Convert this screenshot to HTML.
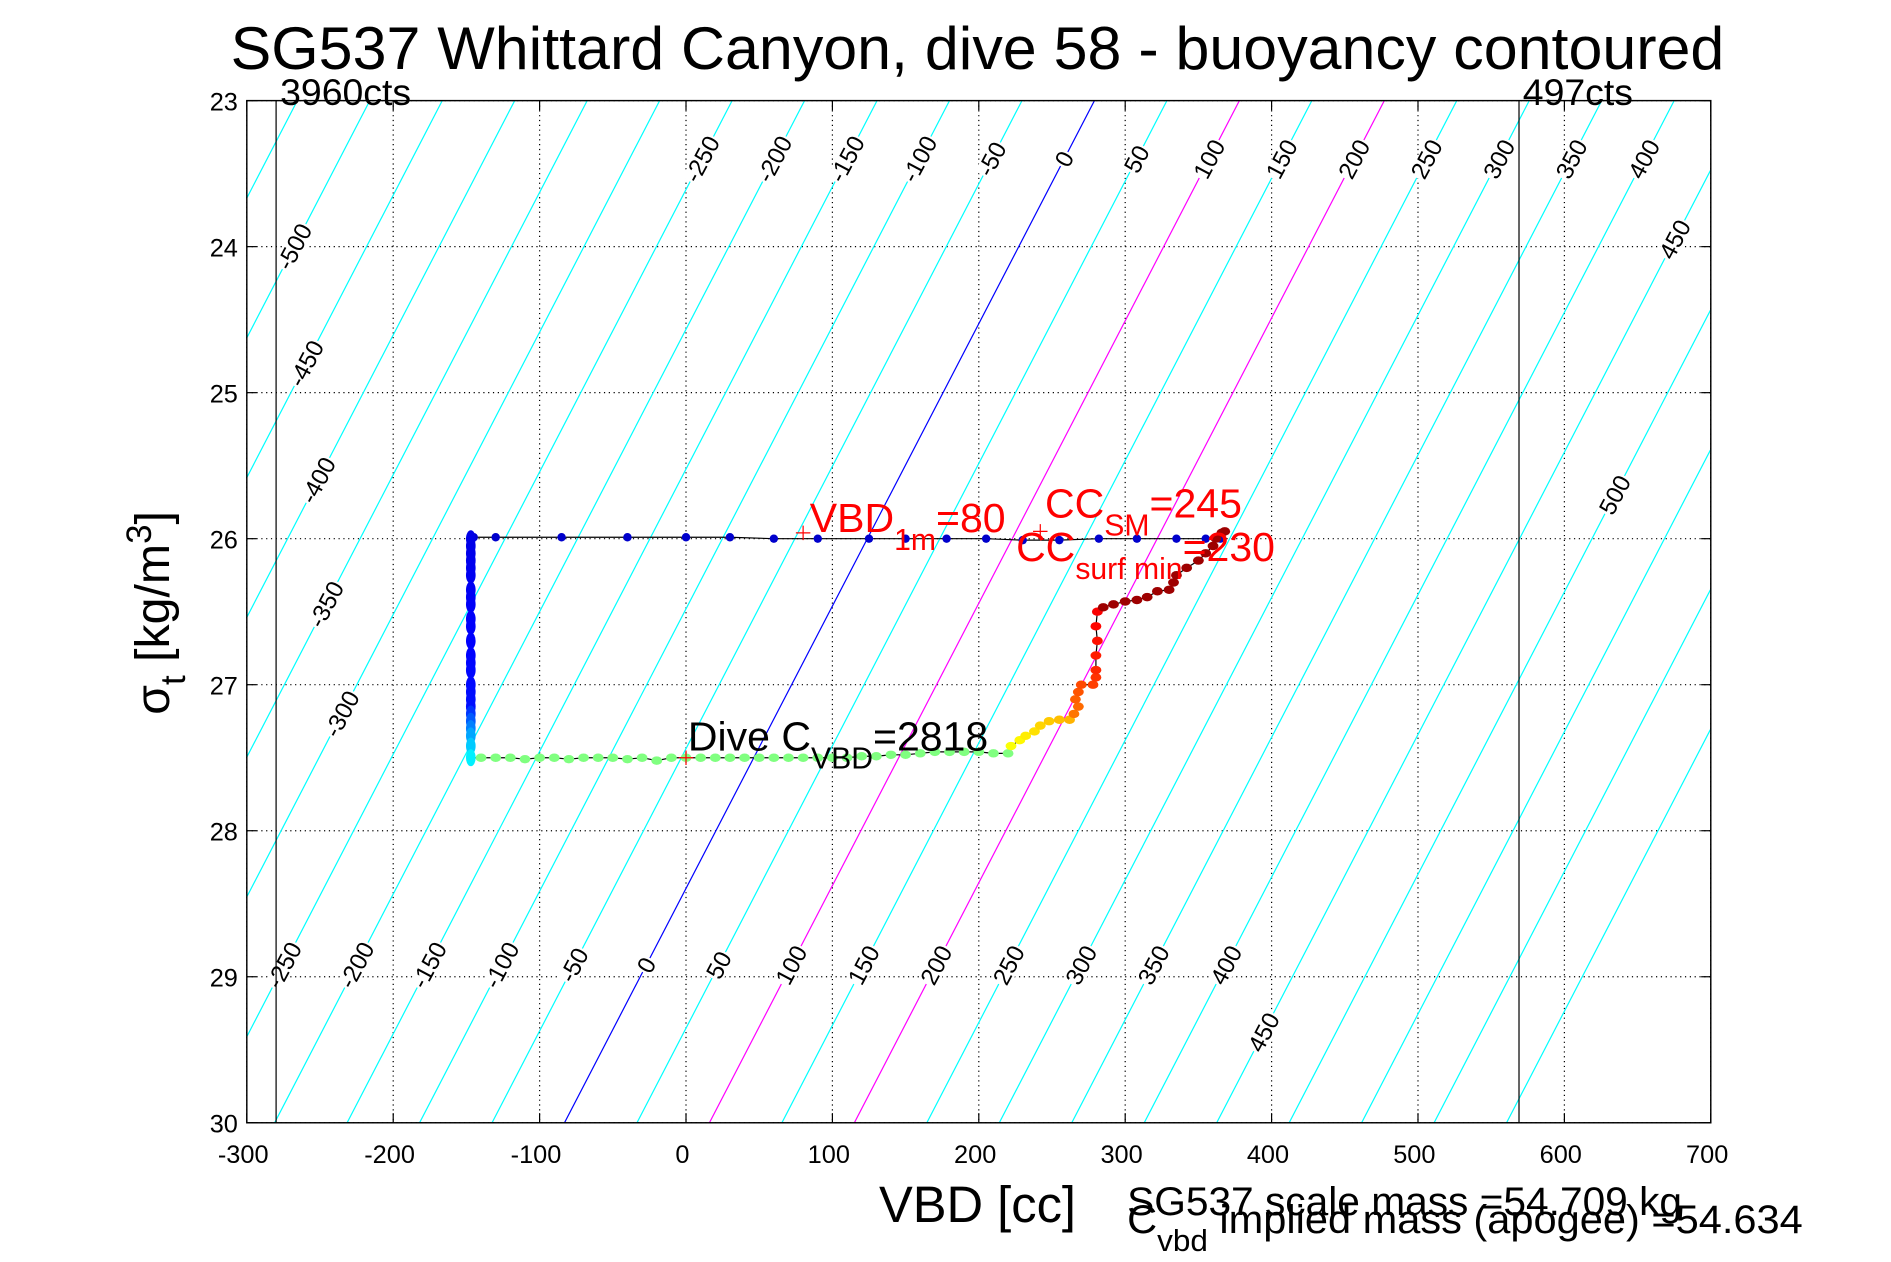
<!DOCTYPE html>
<html><head><meta charset="utf-8"><style>
html,body{margin:0;padding:0;background:#fff;}
svg{display:block;font-family:"Liberation Sans",sans-serif;}
</style></head><body>
<svg id="chart" width="1891" height="1262" viewBox="0 0 1567 1046" xmlns="http://www.w3.org/2000/svg">
<rect x="0" y="0" width="1567" height="1046" fill="#fff"/>
<g id="grid"></g>
<g id="contours"></g>
<g id="clabels"></g>
<g id="vlines"></g>
<g id="trace"></g>
<g id="axes"></g>
<g id="annot"></g>
<text x="810" y="57" font-size="50" text-anchor="middle" textLength="1238" lengthAdjust="spacingAndGlyphs">SG537 Whittard Canyon, dive 58 - buoyancy contoured</text>
<text x="810" y="1013" font-size="42" text-anchor="middle">VBD [cc]</text>
<text transform="translate(140,508) rotate(-90)" font-size="40" text-anchor="middle">σ<tspan font-size="29" dy="13">t</tspan><tspan dy="-13"> [kg/m</tspan><tspan font-size="29" dy="-15">3</tspan><tspan dy="15">]</tspan></text>
<text x="934" y="1007" font-size="33" textLength="460" lengthAdjust="spacingAndGlyphs">SG537 scale mass =54.709 kg</text>
<text x="934" y="1022" font-size="33" textLength="560" lengthAdjust="spacingAndGlyphs">C<tspan font-size="25" dy="15">vbd</tspan><tspan dy="-15"> implied mass (apogee) =54.634</tspan></text>
</svg>
<script>
const xTicks=[-300,-200,-100,0,100,200,300,400,500,600,700];
const yTicks=[23,24,25,26,27,28,29,30];
const contourLevels=[-550,-500,-450,-400,-350,-300,-250,-200,-150,-100,-50,0,50,100,150,200,250,300,350,400,450,500,550,600,650];
const zeroTop=279, zeroBottom=-83;
const topLabels=[-250,-200,-150,-100,-50,0,50,100,150,200,250,300,350,400];
const bottomLabels=[-250,-200,-150,-100,-50,0,50,100,150,200,250,300,350,400];
const sideLabels=[-500,-450,-400,-350,-300];
const sideLabelSigma=[24.0,24.8,25.6,26.45,27.2];
const extraLabels=[450,500,450];
const extraLabelSigma=[23.95,25.7,29.38];
const descentVbd=[-145,-130,-85,-40,0,30,60,90,125,150,178,205,230,255,282,308,335,355,365];
const descentSigma=[25.99,25.99,25.99,25.99,25.99,25.99,26.0,26.0,26.0,26.0,26.0,26.0,26.01,26.01,26.0,26.0,26.0,26.0,26.0];
const diveVbd=[-147,-147,-147,-147,-147,-147,-147,-147,-147,-147,-147,-147,-147,-147,-147,-147,-147,-147,-147,-147,-147,-147,-147,-147,-147,
-140,-130,-120,-110,-100,-90,-80,-70,-60,-50,-40,-30,-20,-10,0,10,20,30,40,50,60,70,80,90,100,110,120,130,140,150,160,170,180,190,200,210,220,
222,228,232,238,242,248,255,262,
265,268,266,268,270,278,280,280,280,281,280,281,
285,292,300,308,315,322,330,333,335,342,350,355,360,362,366,368];
const diveSigma=[26.0,26.05,26.1,26.15,26.2,26.25,26.35,26.4,26.45,26.55,26.6,26.7,26.8,26.85,26.9,27.0,27.05,27.1,27.15,27.2,27.25,27.3,27.35,27.42,27.5,
27.5,27.5,27.5,27.51,27.5,27.5,27.51,27.5,27.5,27.5,27.51,27.5,27.52,27.5,27.5,27.5,27.5,27.5,27.5,27.5,27.5,27.5,27.5,27.5,27.5,27.5,27.49,27.49,27.48,27.48,27.47,27.46,27.46,27.46,27.46,27.47,27.47,
27.42,27.38,27.35,27.32,27.28,27.25,27.24,27.24,
27.2,27.15,27.1,27.05,27.0,27.0,26.95,26.9,26.8,26.7,26.6,26.5,
26.47,26.45,26.43,26.42,26.4,26.36,26.35,26.3,26.25,26.2,26.15,26.1,26.05,26.0,25.96,25.95];
const NS="http://www.w3.org/2000/svg";
const L=204.4,R=1417.8,T=83.4,B=930.6;
const X=v=>L+(v+300)/1000*(R-L);
const Y=s=>T+(s-23)/7*(B-T);
const zeroAt=s=>zeroTop+(zeroBottom-zeroTop)*(s-23)/7;
const cVbd=(b,s)=>zeroAt(s)+b*0.99;
function mk(tag,attrs,parent){const e=document.createElementNS(NS,tag);for(const k in attrs)e.setAttribute(k,attrs[k]);parent.appendChild(e);return e;}
const g=id=>document.getElementById(id);
xTicks.forEach(v=>{const l=mk('line',{x1:X(v),x2:X(v),y1:T,y2:B,stroke:'#000','stroke-width':1,'stroke-dasharray':'1,3'},g('grid'));

});
yTicks.forEach(s=>{const l=mk('line',{x1:L,x2:R,y1:Y(s),y2:Y(s),stroke:'#000','stroke-width':1,'stroke-dasharray':'1,3'},g('grid'));

});
const clip=mk('clipPath',{id:'pc'},document.getElementById('chart'));mk('rect',{x:L,y:T,width:R-L,height:B-T},clip);
g('contours').setAttribute('clip-path','url(#pc)');
contourLevels.forEach(b=>{const col=b===0?'#0000ff':(b===100||b===200)?'#ff00ff':'#00ffff';
const l=mk('line',{x1:X(cVbd(b,30)),y1:Y(30),x2:X(cVbd(b,23)),y2:Y(23),stroke:col,'stroke-width':1},g('contours'));

});
function lab(b,s){const x=X(cVbd(b,s)),y=Y(s);
const t=mk('text',{x:0,y:7,'font-size':20,'text-anchor':'middle',transform:`translate(${x},${y}) rotate(-62)`},g('clabels'));
t.textContent=b;


const bb=t.getBBox();const r=mk('rect',{x:bb.x-1,y:bb.y+3,width:bb.width+2,height:bb.height-6,fill:'#fff',transform:t.getAttribute('transform')},g('clabels'));
g('clabels').insertBefore(r,t);}
topLabels.forEach(b=>lab(b,23.4));
bottomLabels.forEach(b=>lab(b,28.92));
sideLabels.forEach((b,i)=>lab(b,sideLabelSigma[i]));
extraLabels.forEach((b,i)=>lab(b,extraLabelSigma[i]));
[[-280,'3960cts',232],[569,'497cts',1262]].forEach(([v,txt,tx])=>{const l=mk('line',{x1:X(v),x2:X(v),y1:T,y2:B,stroke:'#000','stroke-width':1},g('vlines'));


const t=mk('text',{x:tx,y:87,'font-size':31},g('vlines'));t.textContent=txt;

});
function jet(t){const c=v=>Math.max(0,Math.min(1,v));const r=c(1.5-Math.abs(4*t-3)),gg=c(1.5-Math.abs(4*t-2)),b=c(1.5-Math.abs(4*t-1));return `rgb(${Math.round(r*255)},${Math.round(gg*255)},${Math.round(b*255)})`;}
let dp='';descentVbd.forEach((v,i)=>dp+=(i?'L':'M')+X(v)+' '+Y(descentSigma[i]));
const dl=mk('path',{d:dp,fill:'none',stroke:'#000','stroke-width':1},g('trace'));


let pp='';diveVbd.forEach((v,i)=>pp+=(i?'L':'M')+X(v)+' '+Y(diveSigma[i]));
const pl=mk('path',{d:pp,fill:'none',stroke:'#000','stroke-width':1},g('trace'));


descentVbd.forEach((v,i)=>{const c=mk('circle',{cx:X(v),cy:Y(descentSigma[i]),r:3.5,fill:'#0000cc'},g('trace'));

});
diveVbd.forEach((v,i)=>{let t;
if(i<25)t=i<19?0.1+0.04*i/18:0.14+0.22*(i-18)/6;else if(i<62)t=0.5;else if(i<70)t=0.62+0.08*(i-62)/7;else if(i<82)t=0.76+0.12*(i-70)/11;else t=0.97;
const c=mk('ellipse',{cx:X(v),cy:Y(diveSigma[i]),rx:i<25?4:4.5,ry:i<25?7:3.5,fill:jet(t)},g('trace'));

});
const ax=mk('rect',{x:L,y:T,width:R-L,height:B-T,fill:'none',stroke:'#000','stroke-width':1.2},g('axes'));


xTicks.forEach(v=>{mk('line',{x1:X(v),x2:X(v),y1:B,y2:B-8,stroke:'#000'},g('axes'));mk('line',{x1:X(v),x2:X(v),y1:T,y2:T+8,stroke:'#000'},g('axes'));
const t=mk('text',{x:X(v)-3,y:964,'font-size':21,'text-anchor':'middle'},g('axes'));t.textContent=v;

});
yTicks.forEach(s=>{mk('line',{x1:L,x2:L+8,y1:Y(s),y2:Y(s),stroke:'#000'},g('axes'));mk('line',{x1:R,x2:R-8,y1:Y(s),y2:Y(s),stroke:'#000'},g('axes'));
const t=mk('text',{x:197,y:Y(s)+8,'font-size':21,'text-anchor':'end'},g('axes'));t.textContent=s;

});
function plus(v,s,col){const p=mk('path',{d:`M${X(v)-6} ${Y(s)}h12M${X(v)} ${Y(s)-6}v12`,stroke:col,'stroke-width':1},g('annot'));

}
plus(80,25.96,'#f00');plus(242,25.95,'#f00');plus(0,27.5,'#f00');
g('annot').insertAdjacentHTML('beforeend',
'<text x="671" y="441" font-size="34" fill="#f00">VBD<tspan font-size="25" dy="15">1m</tspan><tspan dy="-15">=80</tspan></text>'+
'<text x="866" y="429" font-size="34" fill="#f00">CC<tspan font-size="25" dy="15">SM</tspan><tspan dy="-15">=245</tspan></text>'+
'<text x="842" y="465" font-size="34" fill="#f00">CC<tspan font-size="25" dy="15">surf min</tspan><tspan dy="-15">=230</tspan></text>'+
'<text x="570" y="622" font-size="34" fill="#000">Dive C<tspan font-size="25" dy="15">VBD</tspan><tspan dy="-15">=2818</tspan></text>');
</script>
</body></html>
